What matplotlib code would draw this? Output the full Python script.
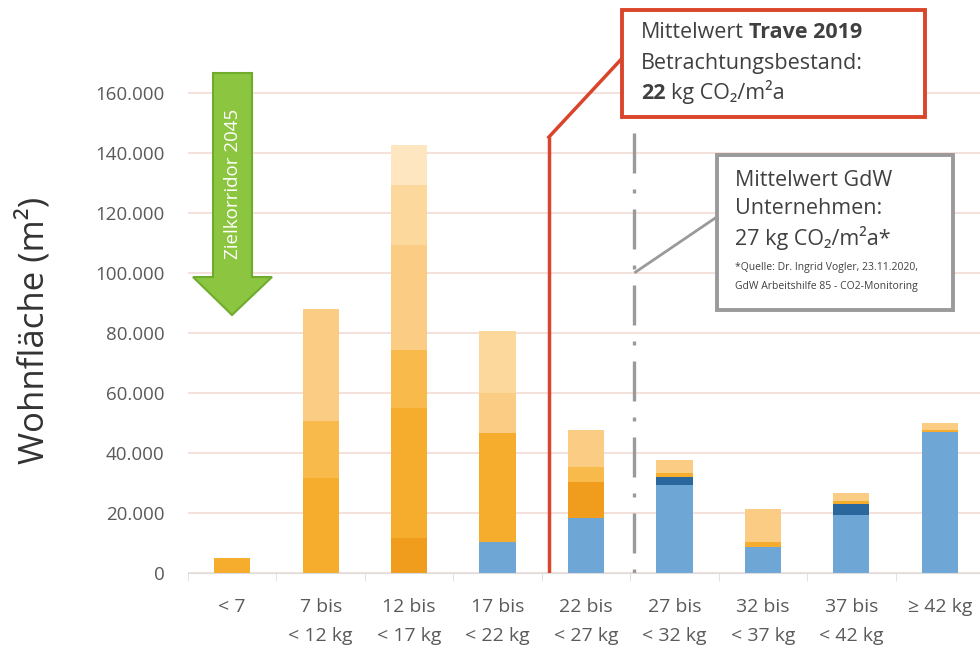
import matplotlib
matplotlib.use('Agg')
import matplotlib.pyplot as plt
import numpy as np
from matplotlib.patches import Rectangle, Polygon
from matplotlib.offsetbox import TextArea, HPacker, AnnotationBbox

plt.rcParams['font.family'] = ['Open Sans', 'DejaVu Sans']

W, H = 980, 668

klassen = ['< 7', '7 bis\n< 12 kg', '12 bis\n< 17 kg', '17 bis\n< 22 kg',
           '22 bis\n< 27 kg', '27 bis\n< 32 kg', '32 bis\n< 37 kg',
           '37 bis\n< 42 kg', '\u2265 42 kg']

# Wohnflaeche je Emissionsklasse (m2), Segmente von unten nach oben
blau = [0, 0, 0, 10300, 18300, 29300, 8700, 19300, 47000]
dunkelblau = [0, 0, 0, 0, 0, 2700, 0, 3700, 0]
dunkelorange = [0, 0, 11700, 0, 12000, 0, 0, 0, 0]
orange = [5000, 31700, 43300, 36400, 0, 1300, 1600, 1000, 700]
mittelorange = [0, 19000, 19300, 0, 5000, 0, 0, 0, 0]
hellorange = [0, 37300, 35000, 13300, 12400, 4400, 11000, 2700, 2300]
blass = [0, 0, 20000, 20700, 0, 0, 0, 0, 0]
sehrblass = [0, 0, 13400, 0, 0, 0, 0, 0, 0]

segmente = [blau, dunkelblau, dunkelorange, orange, mittelorange,
            hellorange, blass, sehrblass]
farben = ['#6ea6d6', '#2a679c', '#f09c1c', '#f6ac2c', '#f8ba4a',
          '#fbcd84', '#fcd89c', '#fde6c0']

yticks = list(range(0, 160001, 20000))
mittel_trave = 22
mittel_gdw = 27


def fig_px(x, y):
    # Pixelposition (von oben links) in Figure-Koordinaten
    return (x / W, 1 - y / H)


fig = plt.figure(figsize=(W / 100, H / 100), dpi=100)
ax = fig.add_axes([188 / W, 95 / H, 796 / W, 510 / H])

x = np.arange(len(klassen))
unten = np.zeros(len(klassen))
for werte, farbe in zip(segmente, farben):
    ax.bar(x, werte, bottom=unten, width=0.41, color=farbe, linewidth=0, zorder=2)
    unten += np.array(werte)

ax.set_xlim(-0.5, 8.5)
ax.set_ylim(0, 170000)
ax.set_yticks(yticks)
ax.set_yticklabels([f'{v:,}'.replace(',', '.') for v in yticks])
ax.yaxis.grid(True, color='#f2dcd6', linewidth=1.2, zorder=0)
ax.set_axisbelow(True)

ax.set_xticks(x)
ax.set_xticklabels(klassen, linespacing=1.8)
ax.set_xticks(np.arange(-0.5, 9, 1), minor=True)
ax.tick_params(axis='x', which='major', length=0, pad=18, labelsize=14,
               labelcolor='#5a5a5a')
ax.tick_params(axis='x', which='minor', length=6, color='#dcdcdc')
ax.tick_params(axis='y', length=0, pad=17, labelsize=13.5, labelcolor='#5a5a5a')

for s in ['top', 'right', 'left']:
    ax.spines[s].set_visible(False)
ax.spines['bottom'].set_color('#dcdcdc')

fig.text(34 / W, 1 - 330 / H, 'Wohnfläche (m²)', rotation=90, ha='center',
         va='center', fontsize=25, color='#333333')

# Zielkorridor-Pfeil
pfeil = [(213, 73), (252, 73), (252, 277), (272, 277), (232, 315),
         (193, 277), (213, 277)]
fig.patches.append(Polygon([fig_px(px, py) for px, py in pfeil], closed=True,
                           transform=fig.transFigure, facecolor='#8cc540',
                           edgecolor='#6fab2d', linewidth=1.5))
fig.text(*fig_px(233, 184), 'Zielkorridor 2045', rotation=90, ha='center',
         va='center', fontsize=13.5, color='white')

# Mittelwert Trave (rote Linie mit Kasten)
x_trave = 3.58
ax.plot([x_trave, x_trave], [0, 145300], color='#d9452b', lw=2.5, zorder=3,
        solid_capstyle='butt')
ax.plot([x_trave, 4.39], [145300, 171000], color='#d9452b', lw=2.5, zorder=3,
        clip_on=False, solid_joinstyle='miter')
fig.patches.append(Rectangle(fig_px(622, 117), 303 / W, 107 / H,
                             transform=fig.transFigure, facecolor='white',
                             edgecolor='#d9452b', linewidth=2.8))

# Mittelwert GdW (grau strichpunktiert mit Kasten)
x_gdw = 4.54
ax.plot([x_gdw, x_gdw], [146700, 0], color='#9a9a9a', lw=2.4, zorder=3,
        linestyle=(0, (12, 4.8, 1.2, 4.8)))
ax.plot([x_gdw + 0.02, 5.48], [100300, 118700], color='#9a9a9a', lw=2,
        zorder=3)
fig.patches.append(Rectangle(fig_px(717, 310), 236 / W, 155 / H,
                             transform=fig.transFigure, facecolor='white',
                             edgecolor='#9a9a9a', linewidth=2.8))

tc = '#404040'


def zeile(teile, px, py, groesse=15.5):
    boxen = [TextArea(t, textprops=dict(fontsize=groesse, color=tc,
                                        fontweight=fw,
                                        family=['Open Sans', 'DejaVu Sans']))
             for t, fw in teile]
    packer = HPacker(children=boxen, align='baseline', pad=0, sep=4)
    ab = AnnotationBbox(packer, fig_px(px, py), xycoords='figure fraction',
                        box_alignment=(0, 0.5), frameon=False, pad=0)
    fig.add_artist(ab)


zeile([('Mittelwert', 'normal'), ('Trave 2019', 'bold')], 641, 33)
zeile([('Betrachtungsbestand:', 'normal')], 641, 63)
zeile([(str(mittel_trave), 'bold'), ('kg CO₂/m²a', 'normal')], 641, 92)

zeile([('Mittelwert GdW', 'normal')], 735, 181)
zeile([('Unternehmen:', 'normal')], 735, 209)
zeile([(f'{mittel_gdw} kg CO₂/m²a*', 'normal')], 735, 238)
fig.text(*fig_px(735, 268), '*Quelle: Dr. Ingrid Vogler, 23.11.2020,',
         fontsize=7.5, color=tc, va='center')
fig.text(*fig_px(735, 286), 'GdW Arbeitshilfe 85 - CO2-Monitoring',
         fontsize=7.5, color=tc, va='center')

fig.savefig('out.png', dpi=100)
